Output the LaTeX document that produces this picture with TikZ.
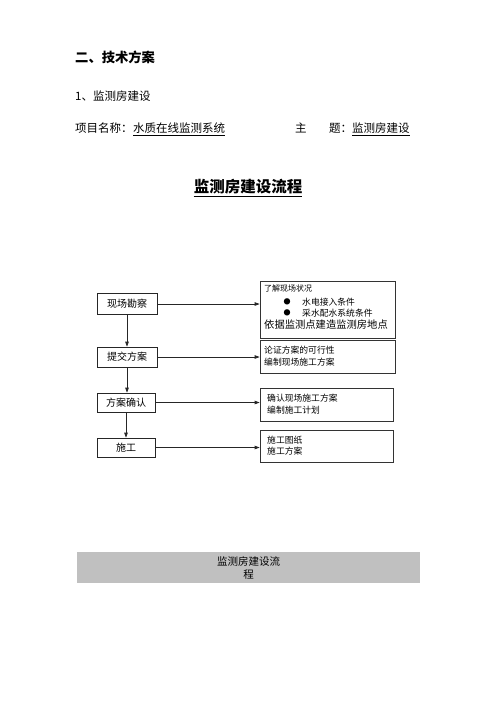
\documentclass[tikz,border=0pt]{standalone}
\usepackage{fontspec}
\setmainfont{Noto Sans CJK SC}
\usetikzlibrary{arrows.meta}
\begin{document}
\begin{tikzpicture}[x=1pt,y=-1pt,
  txt/.style={inner sep=0pt,anchor=west,font=\fontsize{11.5}{14}\selectfont},
  lbox/.style={draw=black!85,line width=0.7pt,inner sep=0pt,minimum width=58pt,minimum height=20pt,font=\fontsize{10}{12}\selectfont},
  rbox/.style={draw=black!80,line width=0.7pt,inner sep=0pt},
  rtxt/.style={inner sep=0pt,anchor=west,font=\fontsize{8.8}{11}\selectfont},
  arr/.style={draw=black!85,line width=0.7pt,-{Triangle[length=5pt,width=3.5pt]}},
  ul/.style={line width=0.6pt}]
\useasboundingbox (0,0) rectangle (496,702);
\fill[white] (0,0) rectangle (496,702);
% headings
\node[txt,font=\fontsize{13.3}{16}\selectfont\bfseries] (h1) at (75,57) {二、技术方案};
\node[txt] (h2) at (75,96) {1、监测房建设};
\node[txt] (p1) at (75,128) {项目名称：};
\node[txt,inner ysep=1.5pt] (p2) at (133,128) {水质在线监测系统};
\draw[ul] (p2.south west) -- (p2.south east);
\node[txt] (s1) at (295,128) {主};
\node[txt] (s2) at (329,128) {题：};
\node[txt,inner ysep=1.5pt] (s3) at (352,128) {监测房建设};
\draw[ul] (s3.south west) -- (s3.south east);
\node[inner sep=0pt,inner ysep=1.5pt,font=\fontsize{15.5}{18}\selectfont\bfseries] (title) at (248,187) {监测房建设流程};
\draw[line width=0.8pt] (title.south west) -- (title.south east);
% left boxes
\node[lbox,minimum width=60pt,minimum height=21pt] (l1) at (127,304) {现场勘察};
\node[lbox,minimum width=60pt] (l2) at (127,357) {提交方案};
\node[lbox,minimum width=58pt,minimum height=19pt] (l3) at (126,402.5) {方案确认};
\node[lbox,minimum width=58pt,minimum height=19pt] (l4) at (126,447.5) {施工};
% right boxes
\node[rbox,minimum width=135pt,minimum height=57pt] (r1) at (327.5,309.5) {};
\node[rbox,minimum width=135pt,minimum height=33pt] (r2) at (327.5,356.5) {};
\node[rbox,minimum width=133pt,minimum height=33pt] (r3) at (326.5,404.5) {};
\node[rbox,minimum width=133pt,minimum height=32pt] (r4) at (326.5,446) {};
% right texts
\node[rtxt,font=\fontsize{8}{10}\selectfont] (t11) at (264,288) {了解现场状况};
\node[font=\fontsize{7}{8}\selectfont,inner sep=0pt] (b1) at (287,302) {●};
\node[rtxt] (t12) at (302,302) {水电接入条件};
\node[font=\fontsize{7}{8}\selectfont,inner sep=0pt] (b2) at (287,313) {●};
\node[rtxt] (t13) at (302,313) {采水配水系统条件};
\node[rtxt,font=\fontsize{10.3}{12}\selectfont] (t14) at (264,325) {依据监测点建造监测房地点};
\node[rtxt] (t21) at (264,350) {论证方案的可行性};
\node[rtxt] (t22) at (264,362) {编制现场施工方案};
\node[rtxt] (t31) at (267,398) {确认现场施工方案};
\node[rtxt] (t32) at (267,410) {编制施工计划};
\node[rtxt] (t41) at (267,440) {施工图纸};
\node[rtxt] (t42) at (267,451) {施工方案};
% arrows
\draw[arr] (l1.east) -- (l1.east -| r1.west);
\draw[arr] (l2.east) -- (l2.east -| r2.west);
\draw[arr] (l3.east) -- (l3.east -| r3.west);
\draw[arr] (l4.east) -- (l4.east -| r4.west);
\draw[arr] (l1.south) -- (l2.north);
\draw[arr] (l2.south) -- (l2.south |- l3.north);
\draw[arr] (l3.south) -- (l4.north);
% gray bar
\node[fill={rgb,255:red,192;green,192;blue,192},minimum width=343pt,minimum height=31pt,inner sep=0pt,align=center,font=\fontsize{10.5}{13}\selectfont] (bar) at (248.5,567.5) {监测房建设流\\程};
\end{tikzpicture}
\end{document}
